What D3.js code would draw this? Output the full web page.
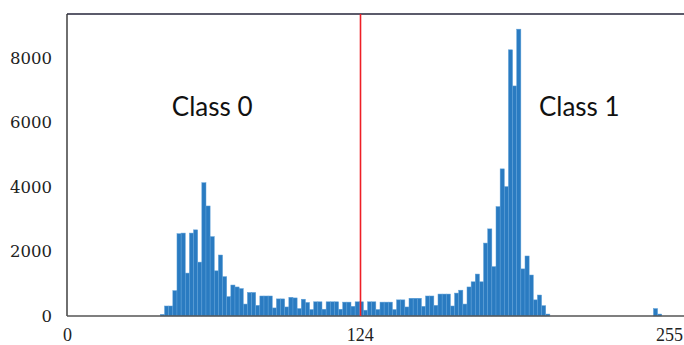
<!DOCTYPE html>
<html>
<head>
<meta charset="utf-8">
<script src="https://cdn.jsdelivr.net/npm/d3@7"></script>
<style>
  html, body { margin: 0; padding: 0; background: #fff; }
  svg { display: block; }
</style>
</head>
<body>
<svg id="chart" width="684" height="345"></svg>
<script>
// ---- data ----
// histogram bins (data units on the 0..255 intensity axis)
const binStart = -0.8;
const binWidth = 1.755;
const counts = [
  0,0,0,0,0,0,0,0,0,0, 0,0,0,0,0,0,0,0,0,0, 0,0,0,          // k 0-22
  50, 310, 310, 785, 2550, 2570, 1330, 2570, 2670, 1670,    // k 23-32
  4130, 3410, 2460, 1400, 1890, 1220, 600, 960, 900, 850,   // k 33-42
  370, 730, 730, 330, 620, 620, 620, 250, 530, 530,         // k 43-52
  280, 580, 560, 230, 520, 420, 200, 440, 440, 210,         // k 53-62
  440, 440, 440, 210, 430, 430, 300, 440, 440, 180,         // k 63-72
  440, 440, 200, 430, 430, 430, 200, 500, 500, 280,         // k 73-82
  550, 550, 550, 300, 620, 620, 330, 680, 680, 680,         // k 83-92
  310, 710, 800, 370, 900, 1060, 1300, 1060, 2260, 2700,    // k 93-102
  1530, 3390, 4560, 4010, 8250, 7130, 8890, 1460, 1860, 1270, // k 103-112
  500, 650, 320, 60,                                        // k 113-116
  0,0,0,0,0,0,0,0,0,0, 0,0,0,0,0,0,0,0,0,0, 0,0,0,0,0,      // k 117-141
  230, 60, 0, 0                                             // k 142-145
];
const threshold = 124;
const xTicks = [0, 124, 255];
const yTicks = [0, 2000, 4000, 6000, 8000];
const labels = [
  { text: "Class 0", x: 61.5 },
  { text: "Class 1", x: 217 }
];
const labelLevel = 6200;

// ---- layout ----
const svg = d3.select("#chart");
const plotL = 67, plotR = 700, plotT = 14, plotB = 316;

const x = d3.scaleLinear().domain([0, 255]).range([67, 669]);
const y = d3.scaleLinear().domain([0, 9360]).range([plotB, plotT]);

// bars
const bins = counts.map((c, k) => ({ x0: binStart + k * binWidth, x1: binStart + (k + 1) * binWidth, c }))
  .filter(d => d.c > 0);

svg.append("g").selectAll("rect").data(bins).join("rect")
  .attr("x", d => x(d.x0))
  .attr("width", d => x(d.x1) - x(d.x0))
  .attr("y", d => y(d.c))
  .attr("height", d => y(0) - y(d.c))
  .attr("fill", "#2a7bc1")
  .attr("stroke", "#5c9fd8")
  .attr("stroke-width", 0.5);

// frame
svg.append("line").attr("x1", plotL).attr("x2", plotR).attr("y1", plotT).attr("y2", plotT)
  .attr("stroke", "#25253a").attr("stroke-width", 1.6);
svg.append("line").attr("x1", plotL).attr("x2", plotL).attr("y1", plotT).attr("y2", plotB)
  .attr("stroke", "#333").attr("stroke-width", 1.4);
svg.append("line").attr("x1", plotL).attr("x2", plotR).attr("y1", plotB).attr("y2", plotB)
  .attr("stroke", "#555").attr("stroke-width", 1.4);

// threshold line
const tx = Math.round(x(threshold)) + 0.5;
svg.append("line")
  .attr("x1", tx).attr("x2", tx)
  .attr("y1", plotT).attr("y2", plotB)
  .attr("stroke", "#ee1f26").attr("stroke-width", 1.6);

// axes
const yAxis = svg.append("g").attr("transform", `translate(${plotL - 15},0)`)
  .call(d3.axisLeft(y).tickValues(yTicks).tickSize(0).tickPadding(0).tickFormat(d3.format("d")));
yAxis.select(".domain").remove();
yAxis.selectAll("text")
  .attr("font-family", "'DejaVu Serif', 'Liberation Serif', serif")
  .attr("font-size", 16.5).attr("fill", "#222");

const xAxis = svg.append("g").attr("transform", `translate(0,${plotB})`)
  .call(d3.axisBottom(x).tickValues(xTicks).tickSize(0).tickPadding(12).tickFormat(d3.format("d")));
xAxis.select(".domain").remove();
xAxis.selectAll("text")
  .attr("font-family", "'Liberation Serif', 'DejaVu Serif', serif")
  .attr("font-size", 18).attr("fill", "#222");

// class labels
svg.append("g").selectAll("text").data(labels).join("text")
  .attr("x", d => x(d.x))
  .attr("y", y(labelLevel))
  .attr("text-anchor", "middle")
  .attr("font-family", "Lato, 'Open Sans', sans-serif")
  .attr("font-size", 26)
  .attr("fill", "#111")
  .text(d => d.text);
</script>
</body>
</html>
